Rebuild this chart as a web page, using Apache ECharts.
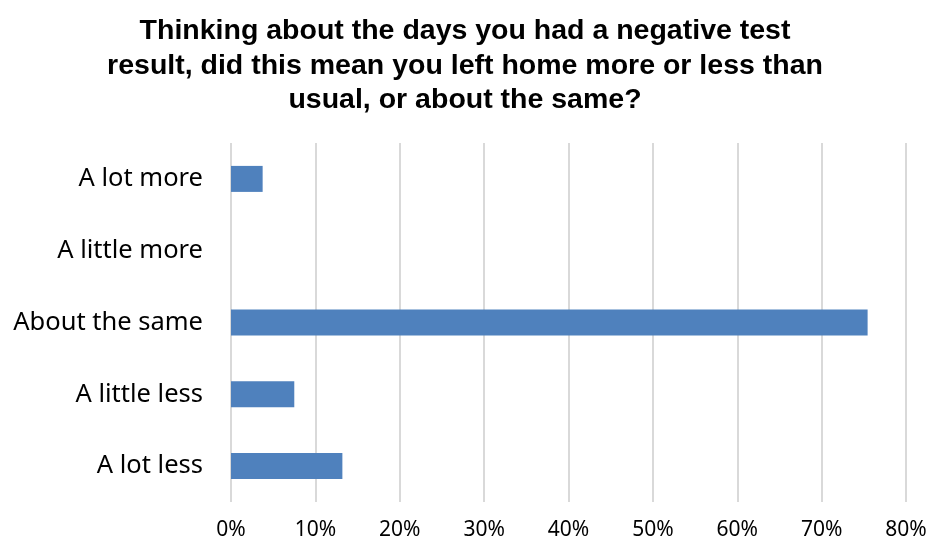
<!DOCTYPE html>
<html><head><meta charset="utf-8">
<script src="https://cdn.jsdelivr.net/npm/echarts@6/dist/echarts.min.js"></script>
<style>html,body{margin:0;padding:0;background:#fff}#c{width:930px;height:545px}</style>
</head><body><div id="c"></div>
<script>
const titleLines = ["Thinking about the days you had a negative test", "result, did this mean you left home more or less than", "usual, or about the same?"];
const categories = ["A lot more", "A little more", "About the same", "A little less", "A lot less"];
const values = [3.75, 0, 75.45, 7.5, 13.2];
const xTicks = [0, 10, 20, 30, 40, 50, 60, 70, 80];

const chart = echarts.init(document.getElementById('c'));
chart.setOption({
  animation: false,
  title: {
    text: titleLines.join('\n'),
    left: 'center', top: 9,
    textStyle: { fontFamily: 'Liberation Sans', fontWeight: 'bold', fontSize: 28.5, lineHeight: 34.5, color: '#000' }
  },
  grid: { left: 231, right: 24, top: 143, bottom: 43 },
  xAxis: {
    type: 'value', min: xTicks[0], max: xTicks[xTicks.length - 1], interval: 10,
    axisLine: { show: false }, axisTick: { show: false },
    axisLabel: { formatter: v => v + '%', fontFamily: 'Noto Sans', fontSize: 21, color: '#000', margin: 18 },
    splitLine: { lineStyle: { color: '#d9d9d9', width: 2 } }
  },
  yAxis: {
    type: 'category', data: categories, inverse: true,
    axisLine: { show: false }, axisTick: { show: false },
    axisLabel: { fontFamily: 'Noto Sans', fontSize: 25.5, color: '#000', margin: 28 }
  },
  series: [{
    type: 'bar', data: values, barWidth: 26,
    itemStyle: { color: '#4f81bd' }
  }]
});
</script></body></html>
